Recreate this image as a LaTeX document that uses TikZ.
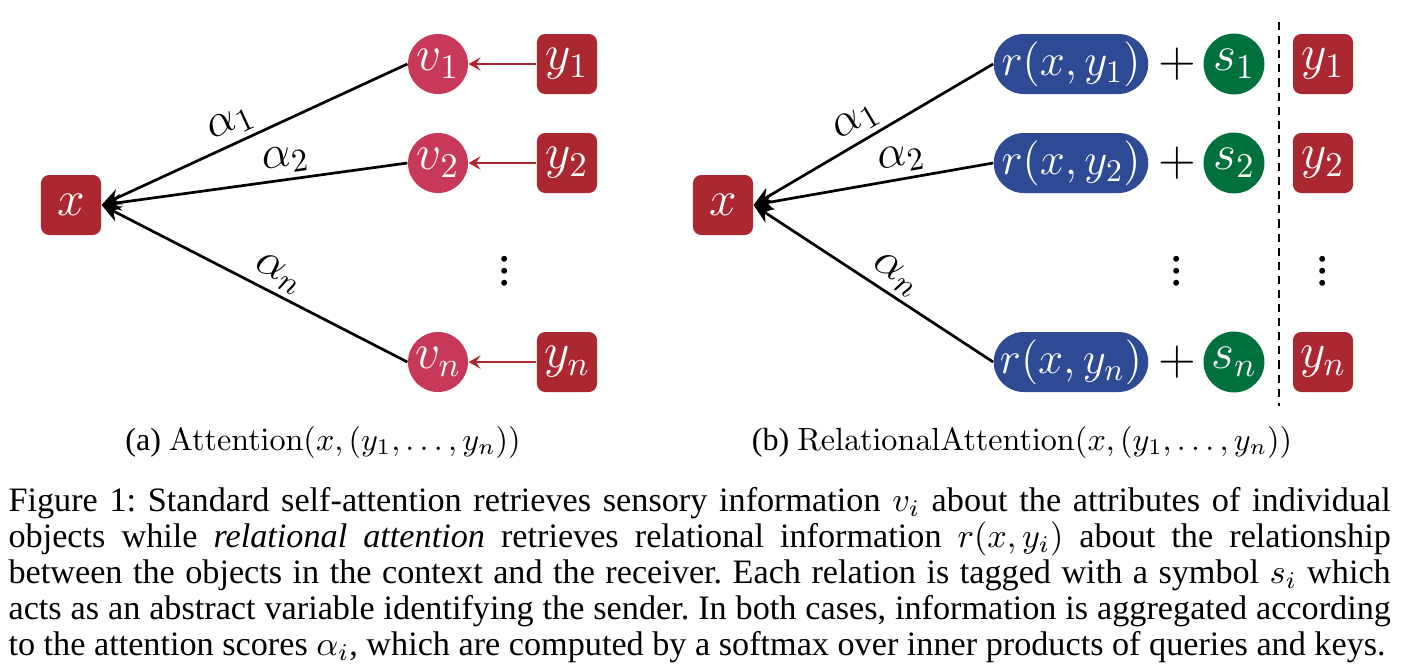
\RequirePackage{fix-cm}
\documentclass[tikz,border=0pt]{standalone}
\usepackage[no-math]{fontspec}
\setmainfont{Liberation Serif}[ItalicFont={Liberation Serif Italic}]
\usepackage{amsmath}
\usetikzlibrary{arrows.meta, positioning}

\definecolor{boxred}{RGB}{172,40,48}
\definecolor{vpink}{RGB}{200,56,88}
\definecolor{rblue}{RGB}{46,74,148}
\definecolor{sgreen}{RGB}{0,112,60}

\tikzset{
  big/.style={font=\fontsize{16.5}{19}\selectfont},
  redbox/.style={big, fill=boxred, text=white, rounded corners=2.7pt, minimum width=20pt, minimum height=20pt, inner sep=0pt},
  vnode/.style={big, circle, fill=vpink, text=white, minimum size=20pt, inner sep=0pt},
  rnode/.style={font=\fontsize{15}{18}\selectfont, fill=rblue, text=white, rounded corners=10pt, minimum width=51.5pt, minimum height=20pt, inner sep=0pt},
  snode/.style={big, circle, fill=sgreen, text=white, minimum size=20.3pt, inner sep=0pt},
  attn/.style={-{Stealth[length=6.5pt, width=5.5pt]}, line width=0.9pt},
  feed/.style={-{Stealth[length=4pt, width=4.5pt, inset=1.6pt]}, draw=boxred, line width=0.6pt},
  lbl/.style={font=\fontsize{15.5}{18}\selectfont, inner sep=1.5pt},
  subcap/.style={font=\fontsize{10.7}{13}\selectfont, inner sep=0pt}
}

\begin{document}
\begin{tikzpicture}[x=0.3333pt, y=-0.3333pt]
\useasboundingbox (0,0) rectangle (1401,666);

\node[redbox] (xa) at (71,205) {$x$};
\node[vnode] (va1) at (438,64) {$v_1$};
\node[vnode] (va2) at (438,163) {$v_2$};
\node[vnode] (van) at (438,362) {$v_n$};
\node[redbox] (ya1) at (567,64) {$y_1$};
\node[redbox] (ya2) at (567,163) {$y_2$};
\node[redbox] (yan) at (567,362) {$y_n$};
\node[big] (dota) at (505,262) {$\vdots$};
\draw[feed] (ya1) -- (va1);
\draw[feed] (ya2) -- (va2);
\draw[feed] (yan) -- (van);
\draw[attn] (va1.west) -- (xa.east) node[lbl, pos=0.55, sloped, above] {$\alpha_1$};
\draw[attn] (va2.west) -- (xa.east) node[lbl, pos=0.39, sloped, above] {$\alpha_2$};
\draw[attn] (van.west) -- (xa.east) node[lbl, pos=0.45, sloped, above] {$\alpha_n$};
\node[subcap] (capa) at (323,442) {(a) $\mathrm{Attention}(x,(y_1,\ldots,y_n))$};

\node[redbox] (xb) at (723,205) {$x$};
\node[rnode] (r1) at (1071,64) {$r(x,y_1)$};
\node[rnode] (r2) at (1071,163) {$r(x,y_2)$};
\node[rnode] (rn) at (1071,362) {$r(x,y_n)$};
\node[big] (p1) at (1177,64) {$+$};
\node[big] (p2) at (1177,163) {$+$};
\node[big] (pn) at (1177,362) {$+$};
\node[snode] (s1) at (1234,64) {$s_1$};
\node[snode] (s2) at (1234,163) {$s_2$};
\node[snode] (sn) at (1234,362) {$s_n$};
\node[redbox] (yb1) at (1323,64) {$y_1$};
\node[redbox] (yb2) at (1323,163) {$y_2$};
\node[redbox] (ybn) at (1323,362) {$y_n$};
\node[big] (dotb) at (1177,262) {$\vdots$};
\node[big] (dotc) at (1323,262) {$\vdots$};
\coordinate (top) at (1279,22);
\coordinate (bot) at (1279,406);
\draw[line width=0.7pt, dash pattern=on 2.7pt off 2pt] (top) -- (bot);
\draw[attn] (r1.west) -- (xb.east) node[lbl, pos=0.53, sloped, above] {$\alpha_1$};
\draw[attn] (r2.west) -- (xb.east) node[lbl, pos=0.37, sloped, above] {$\alpha_2$};
\draw[attn] (rn.west) -- (xb.east) node[lbl, pos=0.45, sloped, above] {$\alpha_n$};
\node[subcap] (capb) at (1022,442) {(b) $\mathrm{RelationalAttention}(x,(y_1,\ldots,y_n))$};

\node[anchor=north west, inner sep=0pt, text width=460.7pt, align=justify, font=\fontsize{11.4}{12}\selectfont] (cap) at (8,487) {\frenchspacing
Figure 1: Standard self-attention retrieves sensory information $v_i$ about the attributes of individual\linebreak
objects while \textit{relational attention} retrieves relational information $r(x,y_i)$ about the relationship\linebreak
between the objects in the context and the receiver. Each relation is tagged with a symbol $s_i$ which\linebreak
acts as an abstract variable identifying the sender. In both cases, information is aggregated according\linebreak
to the attention scores $\alpha_i$, which are computed by a softmax over inner products of queries and keys.};
\end{tikzpicture}
\end{document}
